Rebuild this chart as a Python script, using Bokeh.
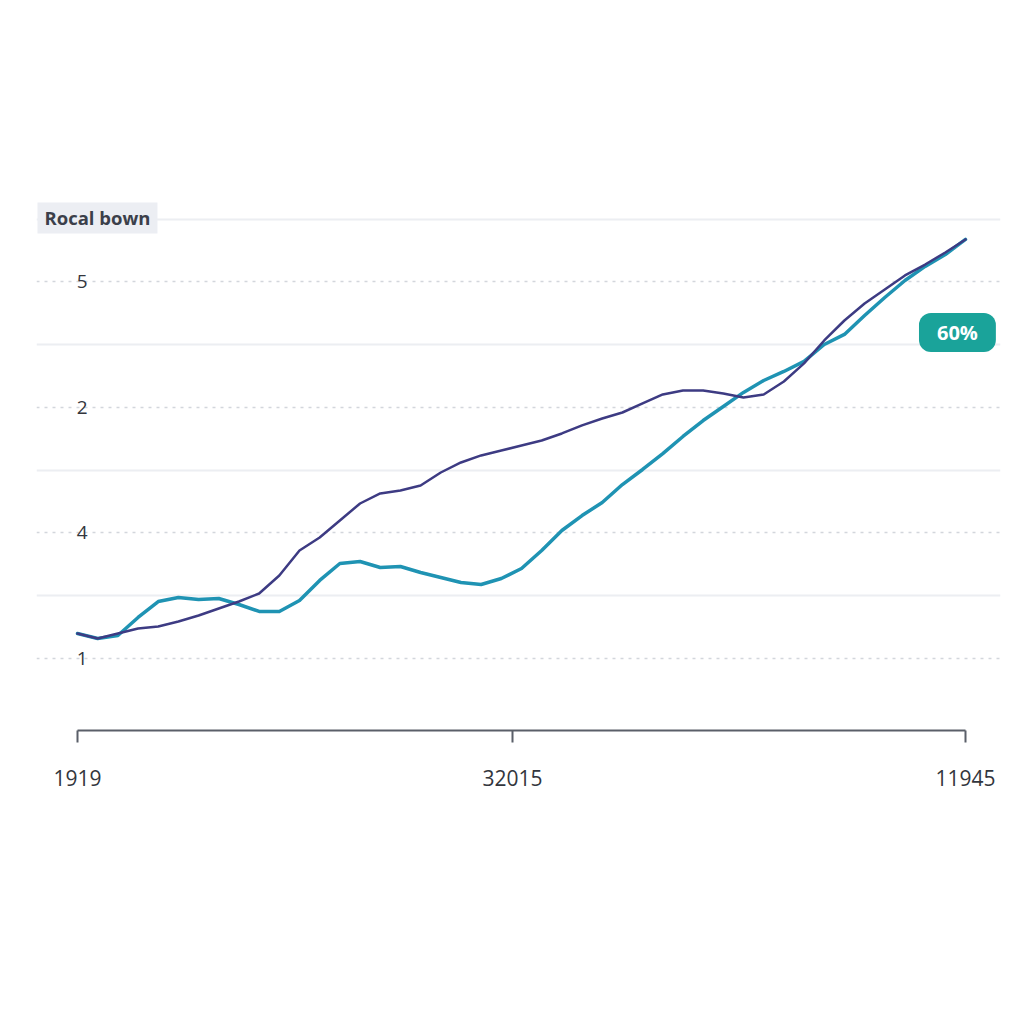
from bokeh.plotting import figure
from bokeh.models import FixedTicker, Range1d, Label, ColumnDataSource
from bokeh.embed import file_html
from bokeh.resources import INLINE

# ---- data ----
idx = list(range(45))
series_dark = [1.199, 1.159, 1.199, 1.239, 1.255, 1.295, 1.343, 1.398, 1.454, 1.518,
               1.661, 1.861, 1.964, 2.100, 2.235, 2.315, 2.339, 2.378, 2.482, 2.562,
               2.618, 2.657, 2.697, 2.737, 2.793, 2.857, 2.912, 2.960, 3.032, 3.104,
               3.135, 3.135, 3.112, 3.080, 3.104, 3.207, 3.351, 3.534, 3.693, 3.829,
               3.940, 4.052, 4.139, 4.235, 4.339]
series_teal = [1.199, 1.159, 1.183, 1.327, 1.454, 1.486, 1.470, 1.478, 1.430, 1.375,
               1.375, 1.462, 1.622, 1.757, 1.773, 1.725, 1.733, 1.685, 1.645, 1.606,
               1.590, 1.637, 1.717, 1.861, 2.020, 2.139, 2.243, 2.386, 2.506, 2.633,
               2.769, 2.896, 3.008, 3.120, 3.215, 3.287, 3.367, 3.502, 3.582, 3.733,
               3.876, 4.012, 4.124, 4.219, 4.339]
x_ticks = [0, 21.55, 44]
x_tick_labels = ["1919", "32015", "11945"]
y_ticks = [1, 2, 3, 4]
y_tick_labels = ["1", "4", "2", "5"]
y_minor = [1.5, 2.5, 3.5, 4.5]
title_text = "Rocal bown"
badge_text = "60%"
badge_value = 3.598

FONT = "Open Sans"

src = ColumnDataSource(dict(x=idx, dark=series_dark, teal=series_teal))

p = figure(width=1024, height=1024, output_backend="svg", toolbar_location=None,
           x_range=Range1d(-2.0315, 45.734), y_range=Range1d(0.4263, 4.689),
           min_border_left=36, min_border_right=24, min_border_top=195,
           min_border_bottom=294)
p.background_fill_color = "white"
p.border_fill_color = "white"
p.outline_line_color = None

# grids
p.xgrid.grid_line_color = None
p.ygrid.ticker = FixedTicker(ticks=y_ticks, minor_ticks=y_minor)
p.ygrid.grid_line_color = "#d3d6dc"
p.ygrid.grid_line_width = 1.5
p.ygrid.grid_line_dash = "3 5"
p.ygrid.minor_grid_line_color = "#eceef2"
p.ygrid.minor_grid_line_width = 2

# x axis
xa = p.xaxis[0]
xa.ticker = FixedTicker(ticks=x_ticks)
xa.bounds = (0, 44)
xa.major_label_overrides = {t: s for t, s in zip(x_ticks, x_tick_labels)}
xa.axis_line_color = "#5a5f69"
xa.axis_line_width = 2
xa.major_tick_line_color = "#5a5f69"
xa.major_tick_line_width = 2
xa.major_tick_out = 12
xa.major_tick_in = 0
xa.minor_tick_line_color = None
xa.major_label_standoff = 27
xa.major_label_text_font = FONT
xa.major_label_text_font_size = "21px"
xa.major_label_text_color = "#33363d"

# y axis
ya = p.yaxis[0]
ya.ticker = FixedTicker(ticks=y_ticks, minor_ticks=y_minor)
ya.major_label_overrides = {t: s for t, s in zip(y_ticks, y_tick_labels)}
ya.axis_line_color = None
ya.major_tick_line_color = None
ya.minor_tick_line_color = None
ya.major_tick_out = 0
ya.major_tick_in = 0
ya.major_label_standoff = -55
ya.major_label_text_font = FONT
ya.major_label_text_font_size = "19px"
ya.major_label_text_color = "#33363d"

# lines
p.line("x", "teal", source=src, line_color="#1f93b3", line_width=3.5,
       line_join="round", line_cap="round")
p.line("x", "dark", source=src, line_color="#3d3b83", line_width=2.5,
       line_join="round", line_cap="round")

# title box
p.add_layout(Label(x=-1.982, y=4.51, text=title_text, text_align="left",
                   text_baseline="middle", text_font=FONT, text_font_size="18.5px",
                   text_font_style="bold", text_color="#3b3f4a",
                   background_fill_color="#eceef3", padding=(7, 3)))

# badge shadow + badge
p.add_layout(Label(x=43.6, y=badge_value, y_offset=-4, text=badge_text,
                   text_align="center", text_baseline="middle", text_font=FONT,
                   text_font_size="20px", text_font_style="bold", text_alpha=0,
                   background_fill_color="#000000", background_fill_alpha=0.07,
                   border_radius=14, padding=(20, 8)))
p.add_layout(Label(x=43.6, y=badge_value, text=badge_text, text_align="center",
                   text_baseline="middle", text_font=FONT, text_font_size="20px",
                   text_font_style="bold", text_color="white",
                   background_fill_color="#1aa39a", border_radius=12,
                   padding=(18, 6)))

open("out.html", "w").write(file_html(p, INLINE))
